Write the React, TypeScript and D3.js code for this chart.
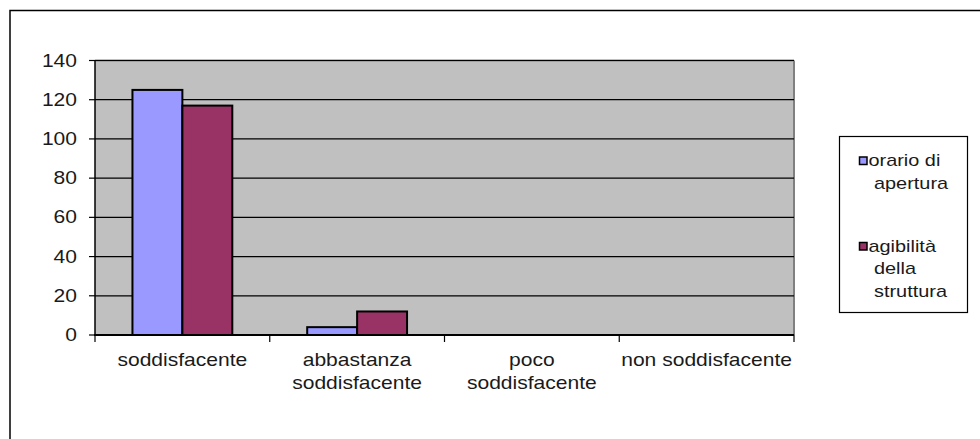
import React from "react";
import * as d3 from "d3";

const categories: string[][] = [
  ["soddisfacente"],
  ["abbastanza", "soddisfacente"],
  ["poco", "soddisfacente"],
  ["non soddisfacente"],
];
const seriesNames: string[][] = [
  ["orario di", "apertura"],
  ["agibilità", "della", "struttura"],
];
const orarioValues = [125, 4, 0, 0];
const agibilitaValues = [117, 12, 0, 0];
const yTicks = [0, 20, 40, 60, 80, 100, 120, 140];
const colors = ["#9999FF", "#993366"];

const W = 980;
const H = 439;
const plot = { left: 95, right: 794, top: 60.5, bottom: 335 };
const FONT = "Arial, 'Liberation Sans', Helvetica, sans-serif";
const SX = 1.17;
const TEXT_COLOR = "#1a1a1a";

export default function App() {
  const series = [orarioValues, agibilitaValues];
  const x0 = d3
    .scaleBand<number>()
    .domain(categories.map((_, i) => i))
    .range([plot.left, plot.right])
    .padding(0);
  const bw = x0.bandwidth();
  const groupW = (bw * 2) / 3.5;
  const x1 = d3
    .scaleBand<number>()
    .domain([0, 1])
    .range([(bw - groupW) / 2, (bw + groupW) / 2])
    .padding(0);
  const y = d3.scaleLinear().domain([0, 140]).range([plot.bottom, plot.top]);

  const boundaries = d3.range(categories.length + 1).map((i) =>
    i < categories.length ? (x0(i) as number) : plot.right
  );

  return (
    <svg
      width={W}
      height={H}
      style={{ position: "absolute", left: 0, top: 0, background: "#fff" }}
      fontFamily={FONT}
    >
      {/* outer chart border */}
      <rect x={10} y={10.5} width={1000} height={500} fill="none" stroke="#000" strokeWidth={1.5} />

      {/* plot area */}
      <rect
        x={plot.left}
        y={plot.top}
        width={plot.right - plot.left}
        height={plot.bottom - plot.top}
        fill="#c0c0c0"
      />
      <line x1={plot.left} x2={plot.right} y1={plot.top} y2={plot.top} stroke="#808080" strokeWidth={2} />
      <line x1={plot.right} x2={plot.right} y1={plot.top} y2={plot.bottom} stroke="#808080" strokeWidth={2} />

      {/* gridlines */}
      {yTicks.slice(1).map((t) => (
        <line key={t} x1={plot.left} x2={plot.right} y1={y(t)} y2={y(t)} stroke="#000" strokeWidth={1.2} />
      ))}

      {/* bars */}
      {series.map((vals, s) =>
        vals.map((v, i) =>
          v > 0 ? (
            <rect
              key={`${s}-${i}`}
              x={(x0(i) as number) + (x1(s) as number)}
              y={y(v)}
              width={x1.bandwidth()}
              height={y(0) - y(v)}
              fill={colors[s]}
              stroke="#000"
              strokeWidth={2}
            />
          ) : null
        )
      )}

      {/* axes */}
      <line x1={plot.left} x2={plot.left} y1={plot.top} y2={plot.bottom} stroke="#000" strokeWidth={1.5} />
      <line x1={plot.left - 1} x2={plot.right} y1={plot.bottom} y2={plot.bottom} stroke="#000" strokeWidth={2} />
      {yTicks.map((t) => (
        <line key={t} x1={plot.left - 6} x2={plot.left} y1={y(t)} y2={y(t)} stroke="#000" strokeWidth={1.2} />
      ))}
      {boundaries.map((bx, i) => (
        <line key={i} x1={bx} x2={bx} y1={plot.bottom} y2={plot.bottom + 7} stroke="#000" strokeWidth={1.2} />
      ))}

      {/* y tick labels */}
      {yTicks.map((t) => (
        <text
          key={t}
          transform={`translate(77,${y(t) + 6}) scale(${SX},1)`}
          textAnchor="end"
          fontSize={18}
          fill={TEXT_COLOR}
        >
          {t}
        </text>
      ))}

      {/* category labels */}
      {categories.map((lines, i) =>
        lines.map((ln, j) => (
          <text
            key={`${i}-${j}`}
            transform={`translate(${(x0(i) as number) + bw / 2},${366 + j * 23}) scale(${SX},1)`}
            textAnchor="middle"
            fontSize={18}
            fill={TEXT_COLOR}
          >
            {ln}
          </text>
        ))
      )}

      {/* legend */}
      <rect x={839.5} y={136.5} width={128} height={176} fill="#fff" stroke="#000" strokeWidth={1.2} />
      {seriesNames.map((lines, s) => {
        const base = s === 0 ? 166 : 251.5;
        return (
          <g key={s}>
            <rect x={859.5} y={base - 9} width={7.5} height={7.5} fill={colors[s]} stroke="#000" strokeWidth={1.5} />
            {lines.map((ln, j) => (
              <text
                key={j}
                transform={`translate(${j === 0 ? 868.5 : 874},${base + j * 22.7}) scale(${SX},1)`}
                fontSize={17}
                fill={TEXT_COLOR}
              >
                {ln}
              </text>
            ))}
          </g>
        );
      })}
    </svg>
  );
}
